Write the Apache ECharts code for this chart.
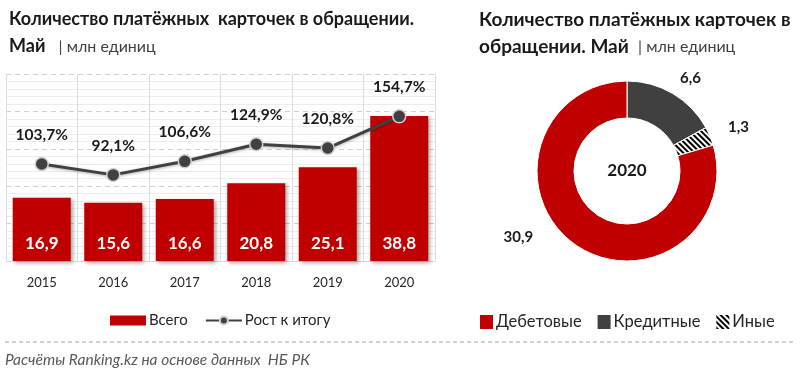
<!DOCTYPE html>
<html>
<head>
<meta charset="utf-8">
<script src="https://cdn.jsdelivr.net/npm/echarts@6/dist/echarts.min.js"></script>
<style>
html,body{margin:0;padding:0;background:#fff;}
#c{width:800px;height:378px;}
</style>
</head>
<body>
<div id="c"></div>
<script>
var years = ['2015','2016','2017','2018','2019','2020'];
var totalCards = [16.9, 15.6, 16.6, 20.8, 25.1, 38.8];
var growthPct = [103.7, 92.1, 106.6, 124.9, 120.8, 154.7];
var pieNames = ['Кредитные', 'Иные', 'Дебетовые'];
var pieValues = [6.6, 1.3, 30.9];
var legendLeft = ['Всего', 'Рост к итогу'];
var legendRight = ['Дебетовые', 'Кредитные', 'Иные'];

var FONT = 'Lato, "Noto Sans", sans-serif';
function comma(v){ return String(v.toFixed(1)).replace('.', ','); }

var hatch = {
  symbol: 'rect', symbolSize: 1,
  dashArrayX: [1, 0], dashArrayY: [2, 2],
  rotation: Math.PI / 4, color: '#000000', backgroundColor: '#ffffff'
};
var pieColors = {'Кредитные': '#404040', 'Иные': '#ffffff', 'Дебетовые': '#C00000'};
var pieLabelOffsets = {'Кредитные': [-8, -5], 'Иные': [-2, -4], 'Дебетовые': [-24, -16]};

var pieData = pieNames.map(function(n, i){
  var it = { name: n, value: pieValues[i], itemStyle: { color: pieColors[n] },
             label: { offset: pieLabelOffsets[n] } };
  if (n === 'Иные') it.itemStyle.decal = hatch;
  return it;
});

var titleStyle = function(size){
  return { fontFamily: FONT, fontSize: size, fontWeight: 'bold', color: '#1a1a1a', lineHeight: 27,
    rich: { b: { fontFamily: FONT, fontSize: size, fontWeight: 'bold', color: '#1a1a1a' },
            g: { fontFamily: FONT, fontSize: 16, fontWeight: 'normal', color: '#404040' } } };
};

var chart = echarts.init(document.getElementById('c'));
chart.setOption({
  animation: false,
  textStyle: { fontFamily: FONT },
  title: [
    { left: 4, top: 1, text: 'Количество платёжных  карточек в обращении.\n{b|Май}   {g|| млн единиц}',
      textStyle: titleStyle(18) },
    { left: 474, top: 1, text: 'Количество платёжных карточек в\n{b|обращении. Май}  {g|| млн единиц}',
      textStyle: titleStyle(19) }
  ],
  legend: [
    { data: legendLeft.map(function(n){ return n === 'Всего' ? { name: n, icon: 'rect' } : n; }),
      left: 105, top: 308, itemWidth: 36, itemHeight: 10, itemGap: 17,
      textStyle: { fontFamily: FONT, fontSize: 15, color: '#262626', padding: [0, 0, 0, -2] } },
    { data: legendRight, icon: 'rect', left: 473, top: 308, itemWidth: 15, itemHeight: 16, itemGap: 14,
      textStyle: { fontFamily: FONT, fontSize: 16.5, color: '#262626', padding: [0, 0, 0, -3] } }
  ],
  grid: { left: 6, right: 365, top: 74, bottom: 117 },
  xAxis: {
    type: 'category', data: years,
    axisTick: { show: false },
    axisLine: { lineStyle: { color: '#d9d9d9' } },
    axisLabel: { color: '#262626', fontSize: 13, margin: 15, fontFamily: FONT },
    splitLine: { show: true, lineStyle: { color: '#dcdcdc', width: 1 } }
  },
  yAxis: [
    { type: 'value', min: 0, max: 50, interval: 10,
      axisLabel: { show: false }, axisLine: { show: false }, axisTick: { show: false },
      splitLine: { lineStyle: { color: '#cfcfcf', type: [5, 4] } },
      minorTick: { show: false, splitNumber: 5 },
      minorSplitLine: { show: true, lineStyle: { color: '#ececec', width: 1 } } },
    { type: 'value', min: 0, max: 200, show: false, splitLine: { show: false } }
  ],
  series: [
    { name: 'Всего', type: 'bar', data: totalCards, barWidth: 58,
      itemStyle: { color: '#C00000', shadowBlur: 4, shadowColor: 'rgba(0,0,0,0.35)', shadowOffsetX: 2, shadowOffsetY: 2 },
      label: { show: true, position: 'insideBottom', distance: 9, color: '#ffffff', fontSize: 17,
               fontWeight: 'bold', fontFamily: FONT, formatter: function(p){ return comma(p.value); } },
      z: 2 },
    { name: 'Рост к итогу', type: 'line', yAxisIndex: 1, data: growthPct,
      symbol: 'circle', symbolSize: 13,
      lineStyle: { color: '#404040', width: 3, shadowBlur: 3, shadowColor: 'rgba(0,0,0,0.3)', shadowOffsetY: 1 },
      itemStyle: { color: '#404040', borderColor: '#d0d0d0', borderWidth: 1.5 },
      label: { show: true, position: 'top', distance: 14, color: '#1a1a1a', fontSize: 15.5, fontWeight: 'bold',
               fontFamily: FONT, formatter: function(p){ return comma(p.value) + '%'; } },
      z: 3 },
    { name: 'pie', type: 'pie', center: [627, 171], radius: [53, 90], startAngle: 90, clockwise: true,
      data: pieData,
      itemStyle: { borderColor: '#ffffff', borderWidth: 1 },
      label: { show: true, position: 'outside', color: '#1a1a1a', fontSize: 15, fontWeight: 'bold', fontFamily: FONT,
               formatter: function(p){ return comma(p.value); } },
      labelLine: { show: false, length: 12, length2: 4 },
      emphasis: { disabled: true } }
  ],
  graphic: [
    { type: 'text', x: 627, y: 171, style: { text: '2020', x: 0, y: 0, textAlign: 'center', textVerticalAlign: 'middle',
      fill: '#1a1a1a', font: 'bold 17px ' + FONT } },
    { type: 'line', shape: { x1: 5, y1: 342, x2: 795, y2: 342 }, style: { stroke: '#a6a6a6', lineWidth: 1, lineDash: [4, 3] } },
    { type: 'text', x: 5, y: 352, style: { text: 'Расчёты Ranking.kz на основе данных  НБ РК', fill: '#595959',
      font: 'italic 15.5px ' + FONT } }
  ]
});
</script>
</body>
</html>
